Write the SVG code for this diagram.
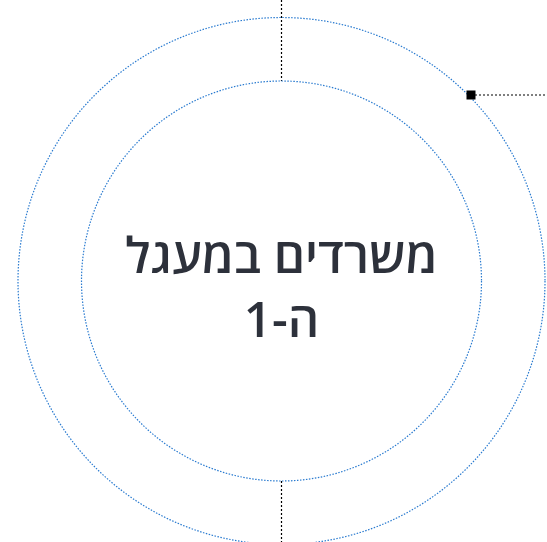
<svg xmlns="http://www.w3.org/2000/svg" width="547" height="542" viewBox="0 0 547 542">
<style>
.ring{fill:none;stroke:#2a7bd0;stroke-width:1.2;stroke-dasharray:1.5 1.5}
.conn{fill:none;stroke:#000;stroke-width:1.2;stroke-dasharray:2 2}
.lbl{font-family:"Open Sans","DejaVu Sans",sans-serif;font-size:49px;font-weight:600;fill:#2d313b;text-anchor:middle}
</style>
<rect width="547" height="542" fill="#fff"/>
<g id="connectors">
<line class="conn" x1="281.5" y1="0" x2="281.5" y2="81"/>
<line class="conn" x1="281.5" y1="481" x2="281.5" y2="542"/>
<line class="conn" x1="471" y1="95" x2="547" y2="95"/>
</g>
<g id="outer-ring">
<circle class="ring" cx="281.5" cy="281" r="263.5"/>
<rect x="466.5" y="90.5" width="9" height="9" fill="#000"/>
</g>
<g id="inner-ring">
<circle class="ring" cx="281.5" cy="281" r="200"/>
<text class="lbl" direction="rtl" x="281.5" y="273">משרדים במעגל</text>
<text class="lbl" direction="rtl" x="281.5" y="337">ה-1</text>
</g>
</svg>
